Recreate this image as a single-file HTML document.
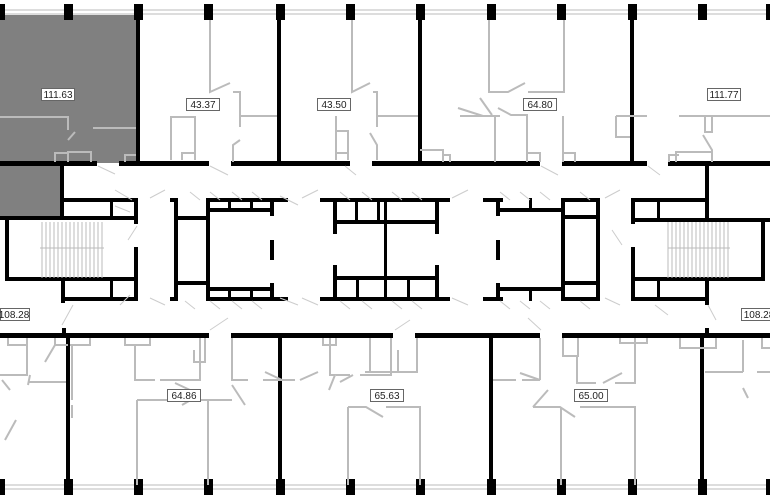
<!DOCTYPE html>
<html><head><meta charset="utf-8"><style>
html,body{margin:0;padding:0;background:#fff;}
svg{display:block}
text{font-family:"Liberation Sans",sans-serif;font-size:10px;fill:#222}
</style></head><body>
<svg width="770" height="500" viewBox="0 0 770 500" xmlns="http://www.w3.org/2000/svg">
<!-- gray unit -->
<rect x="0" y="15" width="138" height="148" fill="#808080"/>
<rect x="0" y="160" width="62" height="58" fill="#808080"/>

<!-- window lines -->
<g stroke="#bbb" stroke-width="1" fill="none">
<line x1="0" y1="10" x2="770" y2="10"/><line x1="0" y1="14" x2="770" y2="14"/>
<line x1="0" y1="485" x2="770" y2="485"/><line x1="0" y1="489" x2="770" y2="489"/>
</g>
<g fill="#000">
<!-- top columns -->
<g id="colsT">
<rect x="-4" y="4" width="9" height="16"/><rect x="64" y="4" width="9" height="16"/><rect x="134" y="4" width="9" height="16"/><rect x="204" y="4" width="9" height="16"/><rect x="276" y="4" width="9" height="16"/><rect x="346" y="4" width="9" height="16"/><rect x="416" y="4" width="9" height="16"/><rect x="487" y="4" width="9" height="16"/><rect x="557" y="4" width="9" height="16"/><rect x="628" y="4" width="9" height="16"/><rect x="698" y="4" width="9" height="16"/><rect x="766" y="4" width="9" height="16"/>
</g>
<g transform="translate(0,475)">
<rect x="-4" y="4" width="9" height="16"/><rect x="64" y="4" width="9" height="16"/><rect x="134" y="4" width="9" height="16"/><rect x="204" y="4" width="9" height="16"/><rect x="276" y="4" width="9" height="16"/><rect x="346" y="4" width="9" height="16"/><rect x="416" y="4" width="9" height="16"/><rect x="487" y="4" width="9" height="16"/><rect x="557" y="4" width="9" height="16"/><rect x="628" y="4" width="9" height="16"/><rect x="698" y="4" width="9" height="16"/><rect x="766" y="4" width="9" height="16"/>
</g>
<!-- top unit walls -->
<rect x="136" y="15" width="4" height="150"/>
<rect x="277" y="15" width="4" height="150"/>
<rect x="418" y="15" width="4" height="150"/>
<rect x="630" y="15" width="4" height="150"/>
<!-- top corridor wall -->
<rect x="0" y="161" width="97" height="5"/>
<rect x="119" y="161" width="90" height="5"/>
<rect x="231" y="161" width="119" height="5"/>
<rect x="372" y="161" width="168" height="5"/>
<rect x="562" y="161" width="85" height="5"/>
<rect x="668" y="161" width="102" height="5"/>
<!-- bottom corridor wall -->
<rect x="0" y="333" width="209" height="5"/>
<rect x="231" y="333" width="162" height="5"/>
<rect x="415" y="333" width="125" height="5"/>
<rect x="562" y="333" width="208" height="5"/>
<!-- bottom unit walls -->
<rect x="66" y="333" width="4" height="152"/>
<rect x="278" y="333" width="4" height="152"/>
<rect x="489" y="333" width="4" height="152"/>
<rect x="700" y="333" width="4" height="152"/>
<rect x="62" y="328" width="4" height="8"/><rect x="705" y="328" width="4" height="8"/>

<!-- left stair -->
<rect x="60" y="163" width="4" height="57"/>
<rect x="60" y="198" width="78" height="4"/>
<rect x="0" y="216" width="138" height="4"/>
<rect x="5" y="216" width="4" height="64"/>
<rect x="5" y="277" width="133" height="4"/>
<rect x="134" y="198" width="4" height="26"/>
<rect x="134" y="247" width="4" height="54"/>
<rect x="61" y="277" width="4" height="26"/>
<rect x="61" y="297" width="77" height="4"/>
<rect x="110" y="198" width="3" height="20"/><rect x="110" y="279" width="3" height="20"/>

<!-- right stair -->
<rect x="631" y="198" width="4" height="26"/>
<rect x="631" y="247" width="4" height="54"/>
<rect x="631" y="198" width="78" height="4"/>
<rect x="705" y="163" width="4" height="57"/>
<rect x="631" y="218" width="139" height="4"/>
<rect x="761" y="218" width="4" height="62"/>
<rect x="631" y="277" width="134" height="4"/>
<rect x="705" y="277" width="4" height="28"/>
<rect x="631" y="297" width="78" height="4"/>
<rect x="657" y="198" width="3" height="20"/><rect x="657" y="279" width="3" height="20"/>

<!-- left core -->
<rect x="170" y="198" width="8" height="4"/><rect x="170" y="297" width="8" height="4"/>
<rect x="174" y="198" width="4" height="103"/>
<rect x="174" y="216" width="36" height="4"/>
<rect x="174" y="281" width="36" height="4"/>
<rect x="206" y="198" width="4" height="103"/>
<rect x="206" y="198" width="82" height="4"/>
<rect x="206" y="297" width="82" height="4"/>
<rect x="206" y="208" width="68" height="4"/>
<rect x="206" y="287" width="68" height="4"/>
<rect x="270" y="198" width="4" height="18"/>
<rect x="270" y="240" width="4" height="20"/>
<rect x="270" y="283" width="4" height="18"/>
<rect x="228" y="198" width="3" height="12"/><rect x="250" y="198" width="3" height="12"/>
<rect x="228" y="289" width="3" height="12"/><rect x="250" y="289" width="3" height="12"/>

<!-- middle core -->
<rect x="320" y="198" width="130" height="4"/>
<rect x="320" y="297" width="130" height="4"/>
<rect x="333" y="198" width="4" height="36"/>
<rect x="333" y="265" width="4" height="36"/>
<rect x="435" y="198" width="4" height="36"/>
<rect x="435" y="265" width="4" height="36"/>
<rect x="333" y="220" width="106" height="4"/>
<rect x="333" y="276" width="106" height="4"/>
<rect x="384" y="198" width="3" height="103"/>
<rect x="355" y="198" width="3" height="24"/><rect x="377" y="198" width="3" height="24"/>
<rect x="356" y="278" width="3" height="22"/><rect x="407" y="278" width="3" height="22"/>

<!-- right core -->
<rect x="483" y="198" width="20" height="4"/><rect x="483" y="297" width="20" height="4"/>
<rect x="496" y="198" width="4" height="18"/>
<rect x="496" y="240" width="4" height="20"/>
<rect x="496" y="283" width="4" height="18"/>
<rect x="496" y="208" width="68" height="4"/>
<rect x="496" y="287" width="68" height="4"/>
<rect x="561" y="198" width="4" height="103"/>
<rect x="561" y="198" width="39" height="4"/>
<rect x="561" y="297" width="39" height="4"/>
<rect x="561" y="215" width="37" height="4"/>
<rect x="561" y="281" width="37" height="4"/>
<rect x="596" y="198" width="4" height="103"/>
<rect x="529" y="198" width="3" height="12"/><rect x="529" y="289" width="3" height="12"/>
</g>

<!-- stairs treads -->
<g stroke="#bbb" stroke-width="1">
<path d="M42 222V278M46 222V278M50 222V278M54 222V278M58 222V278M62 222V278M66 222V278M70 222V278M74 222V278M78 222V278M82 222V278M86 222V278M90 222V278M94 222V278M98 222V278M102 222V278"/>
<path d="M668 222V278M672 222V278M676 222V278M680 222V278M684 222V278M688 222V278M692 222V278M696 222V278M700 222V278M704 222V278M708 222V278M712 222V278M716 222V278M720 222V278M724 222V278M728 222V278"/>
<path d="M40 248H104M668 248H730"/>
</g>

<!-- gray partitions -->
<g stroke="#bbb" stroke-width="2" fill="none">
<!-- top left gray unit -->
<path d="M0 117H68V130M93 128H136M68 140L75 132"/>
<path d="M55 162V153H68V162M68 162V152H91V162M125 162V155H136"/>
<!-- 43.37 -->
<path d="M210 20V92L230 83M233 92H240V127M240 116H277M171 160V117H195V160M182 160V153H195M233 162V145L240 140M233 130"/>
<!-- 43.50 -->
<path d="M352 20V92L370 83M373 92H377V127M377 116H418M336 160V116M336 131H348V160M336 153H348M377 160V145L370 133M420 150H443V162M443 155H450V162"/>
<path d="M460 116H483L458 108M492 116H495V162M474 116H500M480 98L492 115"/>
<!-- 64.80 -->
<path d="M489 20V92H508L525 83M528 92H564V20M563 116V162M563 153H575V162M498 108L511 115H527V162M527 153H540V162"/>
<path d="M616 116H630M616 116V137H630M630 116H647"/>
<!-- 111.77 -->
<path d="M640 116H646M679 116H770M705 116V132H712V116M703 135L712 150V162M676 162V152H712M669 162V155H679"/>
<!-- bottom left -->
<path d="M27 338V345H8V338M27 338V375H0M55 345L45 362M28 382H66M30 375L28 385"/>
<path d="M10 390L2 380"/>
<path d="M55 338V345H68M70 345H90V338M72 345V400M72 405V418M16 420L5 440"/>
<!-- 64.86 -->
<path d="M125 338V345H150V338M135 345V380H155M160 380H200V338M194 350V362H205V338M175 383L190 390"/>
<path d="M137 400V485M137 400H178M200 400H232M208 400V485M182 405L196 397"/>
<path d="M232 338V380H248M263 380H295M232 385L245 405M265 372L282 380M300 380L318 372"/>
<!-- 65.63 -->
<path d="M323 338V345H336V338M330 338V375H335L329 390M336 375H350M360 375H391V338M353 375L340 382"/>
<path d="M370 338V372H387V372M365 372H398V350"/>
<path d="M417 338V372H390M417 370V340M400 372H417"/>
<path d="M348 407V485M348 407H366L383 417M386 407H420V485"/>
<path d="M493 380H516M522 380H540L520 373M540 380V338"/>
<!-- 65.00 -->
<path d="M533 407H560L575 417M580 407H635V485M561 407V485M533 407L548 390"/>
<path d="M563 338V356H578V338M577 356V383H596M615 383H635V338M603 383L622 373M620 338V343H647V338"/>
<path d="M680 338V348H716V338M743 340V372M743 372H705M757 372H770M743 388L748 398"/>
<path d="M762 338V348H770"/>
</g>

<!-- door swings -->
<g stroke="#ccc" stroke-width="1" fill="none">
<path d="M98 166L115 174M210 166L228 175M345 166L356 175M541 166L558 175M648 166L660 175"/>
<path d="M115 190L132 200M115 206L130 212M137 226L128 240M150 198L165 190M150 298L165 305M280 196L298 205M280 298L298 305M302 198L318 190M302 298L318 305M452 198L468 190M452 298L468 305M605 198L620 190M605 298L620 305M612 230L622 245M655 305L668 315"/>
<path d="M190 192L200 200M210 192L220 200M232 192L242 200M252 192L262 200M340 192L350 200M362 192L372 200M392 192L402 200M412 192L422 200M500 192L510 200M520 192L530 200M540 192L550 200M580 192L590 200"/>
<path d="M185 301L195 309M210 301L220 309M232 301L242 309M252 301L262 309M340 301L350 309M362 301L372 309M392 301L402 309M412 301L422 309M500 301L510 309M520 301L530 309M540 301L550 309M580 301L590 309"/>
<path d="M73 305L62 325M210 330L228 318M395 330L410 320M541 330L528 318M708 305L716 320M120 305L130 295"/>
</g>

<!-- labels -->
<g fill="#fff" stroke="#666" stroke-width="1">
<rect x="41.5" y="88.5" width="33" height="12"/>
<rect x="186.5" y="98.5" width="33" height="12"/>
<rect x="317.5" y="98.5" width="33" height="12"/>
<rect x="523.5" y="98.5" width="33" height="12"/>
<rect x="707.5" y="88.5" width="33" height="12"/>
<rect x="0.5" y="308.5" width="29" height="12"/>
<rect x="741.5" y="308.5" width="33" height="12"/>
<rect x="167.5" y="389.5" width="33" height="12"/>
<rect x="370.5" y="389.5" width="33" height="12"/>
<rect x="574.5" y="389.5" width="33" height="12"/>
</g>
<text x="58" y="98" text-anchor="middle">111.63</text>
<text x="203" y="108" text-anchor="middle">43.37</text>
<text x="334" y="108" text-anchor="middle">43.50</text>
<text x="540" y="108" text-anchor="middle">64.80</text>
<text x="724" y="98" text-anchor="middle">111.77</text>
<text x="14" y="318" text-anchor="middle">108.28</text>
<text x="759" y="318" text-anchor="middle">108.28</text>
<text x="184" y="399" text-anchor="middle">64.86</text>
<text x="387" y="399" text-anchor="middle">65.63</text>
<text x="591" y="399" text-anchor="middle">65.00</text>
</svg>
</body></html>
